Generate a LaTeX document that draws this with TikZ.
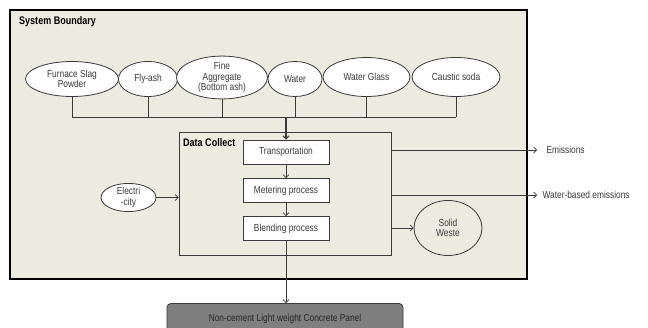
\documentclass[tikz,border=0pt]{standalone}
\usepackage{fontspec}
\setmainfont{Liberation Sans}
\usetikzlibrary{shapes.geometric,arrows.meta}
\definecolor{beige}{HTML}{EDEBE0}
\definecolor{txt}{HTML}{3A3A3A}
\definecolor{panel}{HTML}{7F7F7F}
\tikzset{
  lbl/.style={font=\addfontfeature{FakeStretch=0.82}\fontsize{10.2}{10.4}\selectfont, text=txt, align=center},
  inp/.style={ellipse, draw=txt, fill=white, line width=0.8pt, inner sep=0pt, lbl},
  proc/.style={rectangle, draw=txt, fill=white, line width=0.8pt, minimum width=86, minimum height=24, inner sep=0pt, lbl},
  conn/.style={draw=txt, line width=0.7pt},
  arr/.style={conn, -{Straight Barb[length=3pt,width=6pt]}},
  ttl/.style={font=\addfontfeature{FakeStretch=0.82}\bfseries\fontsize{11}{12}\selectfont, text=black, anchor=west, inner sep=0pt}
}
\begin{document}
\begin{tikzpicture}[x=1pt,y=-1pt]
\clip (0,0) rectangle (648,327);
\fill[white] (0,0) rectangle (648,327);
% system boundary
\draw[fill=beige, line width=1.6pt] (10,10) rectangle (527,279);
\node[ttl] (sb) at (19,22) {System Boundary};
% inputs
\node[inp, minimum width=93, minimum height=35] (fs) at (72,79) {Furnace Slag\\Powder};
\node[inp, minimum width=59, minimum height=35] (fa) at (148,79) {Fly-ash};
\node[inp, minimum width=91, minimum height=39] (fg) at (222,77.5) {Fine\\Aggregate\\(Bottom ash)};
\node[inp, minimum width=54, minimum height=35] (wa) at (295,79) {Water};
\node[inp, minimum width=87, minimum height=39] (wg) at (366.5,77) {Water Glass};
\node[inp, minimum width=88, minimum height=39] (cs) at (456,77) {Caustic soda};
\coordinate (bus) at (0,117);
\foreach \n in {fs,fa,fg,wa,wg,cs} {\draw[conn] (\n.south) -- (\n.south |- bus);}
\draw[conn] (fs.south |- bus) -- (cs.south |- bus);
% data collect
\node[draw=txt, line width=0.8pt, minimum width=212, minimum height=123, inner sep=0pt] (dc) at (285,193.5) {};
\node[ttl] (dct) at (183,143) {Data Collect};
\node[proc] (tr) at (286,152) {Transportation};
\node[proc] (me) at (286,190.5) {Metering process};
\node[proc] (bl) at (286,228.5) {Blending process};
\draw[conn, line width=1.1pt, -{Straight Barb[length=3pt,width=6pt]}] (tr.north |- bus) -- (tr.north);
\draw[arr] (tr) -- (me);
\draw[arr] (me) -- (bl);
% electricity
\node[inp, minimum width=55, minimum height=23] (el) at (128.5,197.5) {Electri\\-city};
\draw[arr] (el.east) -- (el.east -| dc.west);
% outputs
\coordinate (em) at (537,150);
\coordinate (wb) at (537,195);
\node[lbl, anchor=west] (emt) at (543,150) {Emissions};
\node[lbl, anchor=west] (wbt) at (539,195) {Water-based emissions};
\draw[arr] (dc.east |- em) -- (em);
\draw[arr] (dc.east |- wb) -- (wb);
\node[inp, minimum width=68, minimum height=55, fill=beige] (sw) at (448,228) {Solid\\Weste};
\draw[arr] (dc.east |- sw.west) -- (sw.west);
% product
\node[rectangle, rounded corners=4pt, draw=txt, fill=panel, line width=0.8pt, minimum width=236, minimum height=34, inner sep=0pt, anchor=north] (pn) at (285,303) {};
\node[lbl, text=black!85] (pnt) at (285,319) {Non-cement Light weight Concrete Panel};
\draw[arr] (bl.south) -- (bl.south |- pn.north);
\end{tikzpicture}
\end{document}
